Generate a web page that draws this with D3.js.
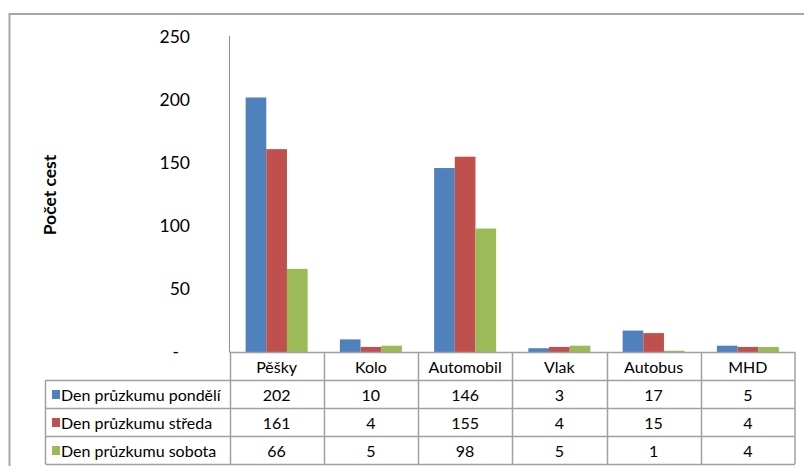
<!DOCTYPE html>
<html>
<head>
<meta charset="utf-8">
<script src="https://cdn.jsdelivr.net/npm/d3@7"></script>
<style>
  html, body { margin: 0; padding: 0; background: #fff; }
  svg { display: block; font-family: Lato, "Open Sans", sans-serif; }
</style>
</head>
<body>
<svg id="chart" width="804" height="466"></svg>
<script>
// Počet cest podle druhu dopravy ve třech dnech průzkumu
const categories = ["Pěšky", "Kolo", "Automobil", "Vlak", "Autobus", "MHD"];
const seriesNames = ["Den průzkumu pondělí", "Den průzkumu středa", "Den průzkumu sobota"];
const ponděli = [202, 10, 146, 3, 17, 5];
const streda = [161, 4, 155, 4, 15, 4];
const sobota = [66, 5, 98, 5, 1, 4];
const yTicks = [0, 50, 100, 150, 200, 250];
const colors = ["#4F81BD", "#C0504D", "#9BBB59"];

const seriesValues = [ponděli, streda, sobota];

const svg = d3.select("#chart");
const W = 804, H = 466;

// outer chart frame
svg.append("rect")
  .attr("x", 9.5).attr("y", 14)
  .attr("width", W + 10).attr("height", H + 10)
  .attr("fill", "#fff").attr("stroke", "#a6a6a6").attr("stroke-width", 2);

const plotLeft = 229.5, plotRight = 795, plotTop = 37, baseY = 352;
const rowH = 28;

const x = d3.scaleBand().domain(categories).range([plotLeft, plotRight]);
const x1 = d3.scaleBand().domain(d3.range(3)).range([0, x.bandwidth()])
  .paddingInner(0).paddingOuter(0.78);
const y = d3.scaleLinear().domain([0, 250]).range([baseY, plotTop]);

// y axis labels (zero shown as a dash, accounting style)
const yAxis = svg.append("g");
yAxis.selectAll("text").data(yTicks).join("text")
  .attr("x", d => d === 0 ? 179 : 190).attr("y", d => y(d))
  .attr("dy", "0.35em")
  .attr("text-anchor", "end")
  .attr("font-size", 17.5)
  .attr("fill", "#000")
  .text(d => d === 0 ? "-" : d);

// y axis line
svg.append("line")
  .attr("x1", plotLeft).attr("x2", plotLeft)
  .attr("y1", y(250) - 1).attr("y2", baseY)
  .attr("stroke", "#8c8c8c").attr("stroke-width", 1);

// y axis title
svg.append("text")
  .attr("transform", `translate(56,${195}) rotate(-90)`)
  .attr("text-anchor", "middle")
  .attr("font-size", 17.5)
  .attr("font-weight", "bold")
  .text("Počet cest");

// bars
const groups = svg.append("g").selectAll("g")
  .data(categories).join("g")
  .attr("transform", d => `translate(${x(d)},0)`);

groups.selectAll("rect")
  .data((c, i) => seriesValues.map((s, k) => ({ k, v: s[i] })))
  .join("rect")
  .attr("x", d => x1(d.k))
  .attr("width", x1.bandwidth())
  .attr("y", d => y(d.v))
  .attr("height", d => baseY - y(d.v))
  .attr("fill", d => colors[d.k]);

// data table
const tableLeft = 45.5;
const table = svg.append("g").attr("font-size", 16).attr("fill", "#000");
const lineColor = "#a0a0a0";

// horizontal lines
[0, 1, 2, 3, 4].forEach(r => {
  const yy = baseY + r * rowH + 0.5;
  table.append("line")
    .attr("x1", r === 0 ? plotLeft : tableLeft).attr("x2", plotRight)
    .attr("y1", yy).attr("y2", yy)
    .attr("stroke", lineColor).attr("stroke-width", 1.5);
});
// vertical lines
table.append("line")
  .attr("x1", tableLeft).attr("x2", tableLeft)
  .attr("y1", baseY + rowH).attr("y2", baseY + 4 * rowH)
  .attr("stroke", lineColor).attr("stroke-width", 1.5);
categories.forEach((c, i) => {
  const xx = Math.round(x(c)) + 0.5;
  table.append("line")
    .attr("x1", xx).attr("x2", xx)
    .attr("y1", baseY).attr("y2", baseY + 4 * rowH)
    .attr("stroke", lineColor).attr("stroke-width", 1.5);
});
table.append("line")
  .attr("x1", plotRight).attr("x2", plotRight)
  .attr("y1", baseY).attr("y2", baseY + 4 * rowH)
  .attr("stroke", lineColor).attr("stroke-width", 1.5);

// header row: category names
table.selectAll("text.cat").data(categories).join("text")
  .attr("class", "cat")
  .attr("x", d => x(d) + x.bandwidth() / 2)
  .attr("y", baseY + rowH / 2 + 1)
  .attr("dy", "0.35em")
  .attr("text-anchor", "middle")
  .text(d => d);

// series rows
seriesNames.forEach((name, k) => {
  const cy = baseY + (k + 1) * rowH + rowH / 2 + 1;
  table.append("rect")
    .attr("x", 52).attr("y", cy - 5)
    .attr("width", 8).attr("height", 9)
    .attr("fill", colors[k]);
  table.append("text")
    .attr("x", 61).attr("y", cy)
    .attr("dy", "0.35em")
    .text(name);
  table.selectAll(null).data(seriesValues[k]).join("text")
    .attr("x", (d, i) => x(categories[i]) + x.bandwidth() / 2)
    .attr("y", cy)
    .attr("dy", "0.35em")
    .attr("text-anchor", "middle")
    .text(d => d);
});
</script>
</body>
</html>
